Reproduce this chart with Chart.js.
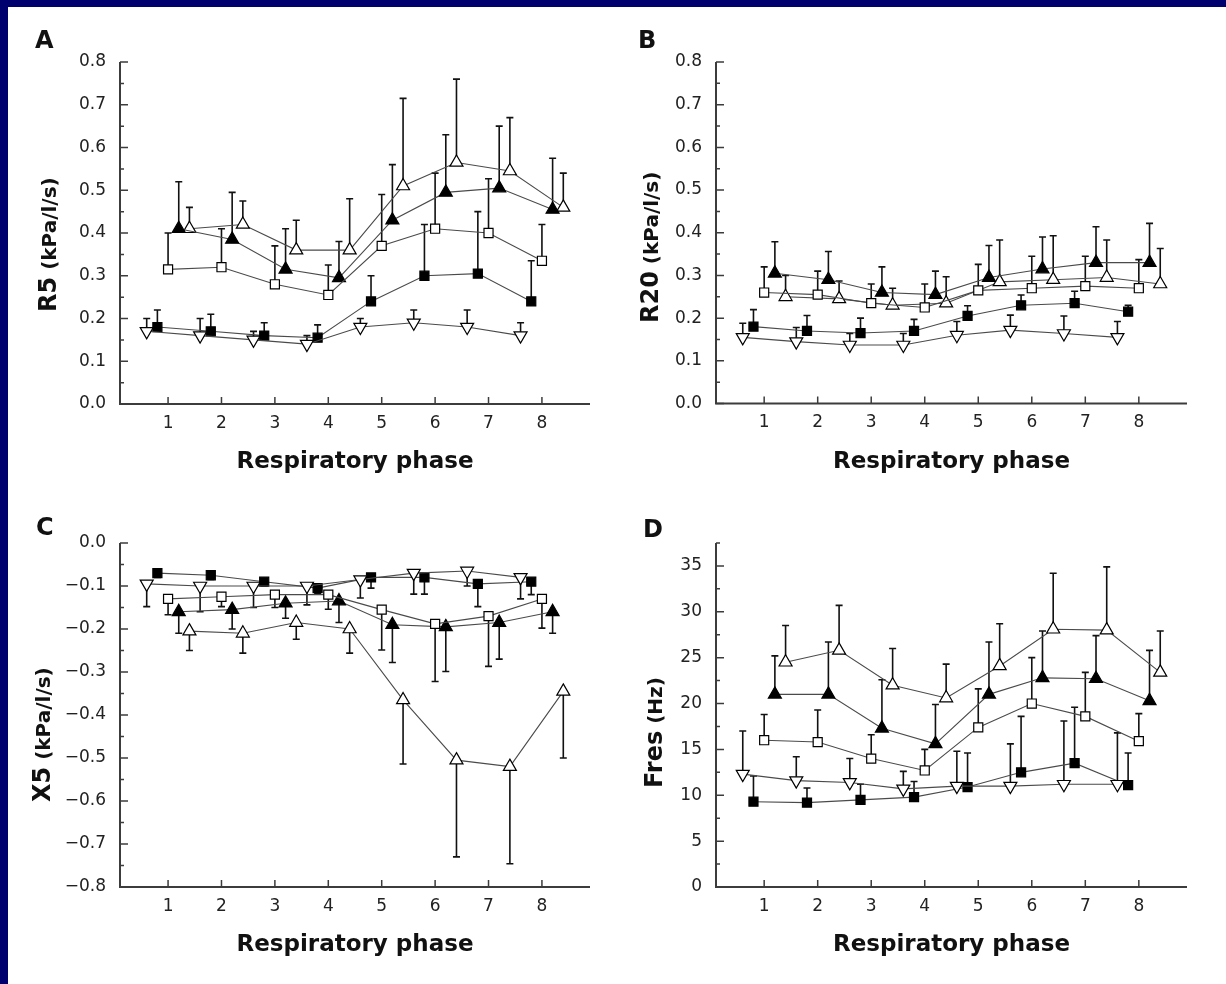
<!DOCTYPE html>
<html>
<head>
<meta charset="utf-8">
<script src="https://cdn.jsdelivr.net/npm/chart.js@4.4.1/dist/chart.umd.min.js"></script>
<style>
  html, body { margin: 0; padding: 0; background: #00006e; overflow: hidden; }
  #sheet { position: absolute; left: 8px; top: 7px; width: 1218px; height: 977px; background: #fff; }
  canvas { position: absolute; }
</style>
</head>
<body>
<div id="sheet"></div>
<canvas id="chartA"></canvas>
<canvas id="chartB"></canvas>
<canvas id="chartC"></canvas>
<canvas id="chartD"></canvas>
<script>
// respiratory phases 1-8, five groups drawn side by side around each phase
const phases = [1, 2, 3, 4, 5, 6, 7, 8];
const groups = ['open down triangle', 'filled square', 'open square', 'filled triangle', 'open triangle'];

// A: R5 (kPa/l/s), mean and SD per group
const r5Mean = [
  [0.17, 0.16, 0.15, 0.14, 0.18, 0.19, 0.18, 0.16],
  [0.18, 0.17, 0.16, 0.155, 0.24, 0.30, 0.305, 0.24],
  [0.315, 0.32, 0.28, 0.255, 0.37, 0.41, 0.40, 0.335],
  [0.41, 0.385, 0.315, 0.295, 0.43, 0.495, 0.505, 0.455],
  [0.41, 0.42, 0.36, 0.36, 0.51, 0.565, 0.545, 0.46]
];
const r5Sd = [
  [0.03, 0.04, 0.02, 0.02, 0.02, 0.03, 0.04, 0.03],
  [0.04, 0.04, 0.03, 0.03, 0.06, 0.12, 0.145, 0.095],
  [0.085, 0.09, 0.09, 0.07, 0.12, 0.13, 0.127, 0.085],
  [0.11, 0.11, 0.095, 0.085, 0.13, 0.135, 0.145, 0.12],
  [0.05, 0.055, 0.07, 0.12, 0.205, 0.195, 0.125, 0.08]
];

// B: R20 (kPa/l/s)
const r20Mean = [
  [0.155, 0.145, 0.137, 0.137, 0.16, 0.172, 0.164, 0.155],
  [0.18, 0.17, 0.165, 0.17, 0.205, 0.23, 0.235, 0.215],
  [0.26, 0.255, 0.235, 0.225, 0.265, 0.27, 0.275, 0.27],
  [0.305, 0.29, 0.26, 0.255, 0.295, 0.315, 0.33, 0.33],
  [0.25, 0.245, 0.23, 0.235, 0.285, 0.29, 0.295, 0.28]
];
const r20Sd = [
  [0.033, 0.033, 0.027, 0.027, 0.032, 0.035, 0.041, 0.037],
  [0.04, 0.036, 0.035, 0.027, 0.024, 0.024, 0.028, 0.015],
  [0.06, 0.055, 0.045, 0.055, 0.061, 0.075, 0.07, 0.067],
  [0.074, 0.066, 0.06, 0.055, 0.075, 0.075, 0.084, 0.092],
  [0.05, 0.042, 0.04, 0.062, 0.098, 0.103, 0.088, 0.083]
];

// C: X5 (kPa/l/s), SD drawn downwards
const x5Mean = [
  [-0.095, -0.10, -0.10, -0.10, -0.085, -0.07, -0.065, -0.08],
  [-0.07, -0.075, -0.09, -0.105, -0.08, -0.08, -0.095, -0.09],
  [-0.13, -0.125, -0.12, -0.12, -0.155, -0.188, -0.17, -0.13],
  [-0.16, -0.155, -0.14, -0.135, -0.19, -0.195, -0.185, -0.16],
  [-0.205, -0.21, -0.185, -0.20, -0.365, -0.505, -0.52, -0.345]
];
const x5Sd = [
  [0.053, 0.06, 0.05, 0.044, 0.043, 0.049, 0.035, 0.05],
  [0.01, 0.01, 0.01, 0.013, 0.025, 0.039, 0.053, 0.03],
  [0.037, 0.023, 0.03, 0.034, 0.094, 0.134, 0.117, 0.068],
  [0.05, 0.045, 0.035, 0.05, 0.088, 0.104, 0.085, 0.05],
  [0.045, 0.046, 0.039, 0.056, 0.149, 0.225, 0.226, 0.155]
];

// D: Fres (Hz)
const fresMean = [
  [12.3, 11.6, 11.4, 10.7, 11.0, 11.0, 11.2, 11.2],
  [9.3, 9.2, 9.5, 9.8, 10.9, 12.5, 13.5, 11.1],
  [16.0, 15.8, 14.0, 12.7, 17.4, 20.0, 18.6, 15.9],
  [21.0, 21.0, 17.3, 15.6, 21.0, 22.8, 22.7, 20.3],
  [24.5, 25.8, 22.0, 20.6, 24.1, 28.1, 28.0, 23.4]
];
const fresSd = [
  [4.7, 2.6, 2.6, 1.9, 3.8, 4.6, 6.9, 5.6],
  [2.8, 1.6, 1.7, 1.7, 3.7, 6.1, 6.1, 3.5],
  [2.8, 3.5, 2.6, 2.3, 4.2, 5.0, 4.8, 3.0],
  [4.2, 5.7, 5.3, 4.3, 5.7, 5.1, 4.7, 5.5],
  [4.0, 4.9, 4.0, 3.7, 4.6, 6.1, 6.9, 4.5]
];

// tick values and labels
const rTicks = [0, 0.1, 0.2, 0.3, 0.4, 0.5, 0.6, 0.7, 0.8];
const rTickLabels = ['0.0', '0.1', '0.2', '0.3', '0.4', '0.5', '0.6', '0.7', '0.8'];
const x5Ticks = [0, -0.1, -0.2, -0.3, -0.4, -0.5, -0.6, -0.7, -0.8];
const x5TickLabels = ['0.0', '\u22120.1', '\u22120.2', '\u22120.3', '\u22120.4', '\u22120.5', '\u22120.6', '\u22120.7', '\u22120.8'];
const fresTicks = [0, 5, 10, 15, 20, 25, 30, 35];
const fresTickLabels = ['0', '5', '10', '15', '20', '25', '30', '35'];

const FONT = '"DejaVu Sans", "Liberation Sans", sans-serif';
const X_AXIS_H = 76;

// marker look per group: offset from the phase, shape, fill
const markers = [
  { off: -0.4, style: 'triangle', rot: 180, fill: '#fff', r: 7.5 },
  { off: -0.2, style: 'rect', rot: 0, fill: '#000', r: 6.4 },
  { off: 0, style: 'rect', rot: 0, fill: '#fff', r: 6.4 },
  { off: 0.2, style: 'triangle', rot: 0, fill: '#000', r: 7.5 },
  { off: 0.4, style: 'triangle', rot: 0, fill: '#fff', r: 7.5 }
];

const errorBars = {
  id: 'errorBars',
  beforeDatasetsDraw(chart, args, opts) {
    const { ctx, scales: { x, y } } = chart;
    ctx.save();
    ctx.strokeStyle = '#111';
    ctx.lineWidth = 1.6;
    chart.data.datasets.forEach(ds => {
      ds.data.forEach((p, i) => {
        const px = x.getPixelForValue(p.x);
        const y0 = y.getPixelForValue(p.y);
        const y1 = y.getPixelForValue(p.y + opts.dir * ds.sd[i]);
        ctx.beginPath();
        ctx.moveTo(px, y0);
        ctx.lineTo(px, y1);
        ctx.moveTo(px - 3.5, y1);
        ctx.lineTo(px + 3.5, y1);
        ctx.stroke();
      });
    });
    ctx.restore();
  }
};

const frame = {
  id: 'frame',
  afterDraw(chart, args, opts) {
    const { ctx, chartArea: a, scales: { x, y } } = chart;
    ctx.save();
    ctx.strokeStyle = '#3c3c3c';
    ctx.lineWidth = 2;
    ctx.beginPath();
    ctx.moveTo(a.left, a.top);
    ctx.lineTo(a.left, a.bottom);
    ctx.lineTo(a.right, a.bottom);
    ctx.stroke();

    ctx.lineWidth = 1.5;
    ctx.beginPath();
    y.ticks.forEach(t => {
      const py = y.getPixelForValue(t.value);
      ctx.moveTo(a.left, py);
      ctx.lineTo(a.left + 8, py);
    });
    opts.minor.forEach(v => {
      const py = y.getPixelForValue(v);
      ctx.moveTo(a.left, py);
      ctx.lineTo(a.left + 4, py);
    });
    x.ticks.forEach(t => {
      const px = x.getPixelForValue(t.value);
      ctx.moveTo(px, a.bottom);
      ctx.lineTo(px, a.bottom - 7);
    });
    ctx.stroke();

    // panel letter
    ctx.fillStyle = '#111';
    ctx.textBaseline = 'alphabetic';
    ctx.textAlign = 'left';
    ctx.font = 'bold 24px ' + FONT;
    ctx.fillText(opts.letter, opts.letterPos[0] - opts.box[0], opts.letterPos[1] - opts.box[1]);

    // y title, big name + smaller unit, rotated
    ctx.translate(opts.titlePos[0] - opts.box[0], opts.titlePos[1] - opts.box[1]);
    ctx.rotate(-Math.PI / 2);
    let cx = 0;
    opts.title.forEach(part => {
      ctx.font = 'bold ' + part.size + 'px ' + FONT;
      ctx.fillText(part.text, cx, 0);
      cx += ctx.measureText(part.text).width;
    });
    ctx.restore();
  }
};

function minorTicks(ticks, top) {
  const out = [];
  for (let i = 0; i < ticks.length - 1; i++) out.push((ticks[i] + ticks[i + 1]) / 2);
  if (top !== undefined) out.push(top);
  return out;
}

function makePanel(id, p) {
  const canvas = document.getElementById(id);
  const [bl, bt, bw, bh] = p.box;
  const [al, at, ar, ab] = p.area;
  canvas.width = bw;
  canvas.height = bh;
  canvas.style.left = bl + 'px';
  canvas.style.top = bt + 'px';

  const datasets = p.mean.map((row, g) => ({
    label: groups[g],
    data: row.map((v, i) => ({ x: phases[i] + markers[g].off, y: v })),
    sd: p.sd[g],
    borderColor: '#4a4a4a',
    borderWidth: 1.1,
    pointStyle: markers[g].style,
    pointRotation: markers[g].rot,
    pointRadius: markers[g].r,
    pointBackgroundColor: markers[g].fill,
    pointBorderColor: '#000',
    pointBorderWidth: 1.2,
    tension: 0,
    clip: false
  }));

  return new Chart(canvas, {
    type: 'line',
    data: { datasets },
    options: {
      responsive: false,
      animation: false,
      events: [],
      layout: {
        autoPadding: false,
        padding: { left: 0, top: at - bt, right: bl + bw - ar, bottom: bt + bh - ab - X_AXIS_H }
      },
      scales: {
        x: {
          type: 'linear',
          min: 0.1,
          max: 8.9,
          afterFit: s => { s.height = X_AXIS_H; },
          afterBuildTicks: s => { s.ticks = phases.map(v => ({ value: v })); },
          grid: { display: false, drawTicks: false },
          border: { display: false },
          ticks: { color: '#222', padding: 9, font: { family: FONT, size: 17 } },
          title: {
            display: true,
            text: 'Respiratory phase',
            color: '#111',
            padding: { top: 0, bottom: 4 },
            font: { family: FONT, size: 23, weight: 'bold' }
          }
        },
        y: {
          type: 'linear',
          min: p.yMin,
          max: p.yMax,
          afterFit: s => { s.width = al - bl; },
          afterBuildTicks: s => { s.ticks = p.ticks.map(v => ({ value: v })); },
          grid: { display: false, drawTicks: false },
          border: { display: false },
          ticks: {
            color: '#222',
            padding: 14,
            font: { family: FONT, size: 17 },
            callback: (v, i) => p.labels[p.ticks.indexOf(v)] ?? p.labels[i]
          }
        }
      },
      plugins: {
        legend: { display: false },
        tooltip: { enabled: false },
        errorBars: { dir: p.dir },
        frame: {
          minor: p.minor,
          box: p.box,
          letter: p.letter,
          letterPos: p.letterPos,
          title: p.title,
          titlePos: p.titlePos
        }
      }
    },
    plugins: [errorBars, frame]
  });
}

makePanel('chartA', {
  box: [8, 7, 605, 480], area: [120, 62, 590, 404],
  mean: r5Mean, sd: r5Sd, dir: 1, yMin: 0, yMax: 0.8,
  ticks: rTicks, labels: rTickLabels, minor: minorTicks(rTicks),
  letter: 'A', letterPos: [35, 48],
  title: [{ text: 'R5', size: 24 }, { text: ' (kPa/l/s)', size: 20 }], titlePos: [56, 312]
});

makePanel('chartB', {
  box: [613, 7, 613, 480], area: [716, 62, 1187, 403.5],
  mean: r20Mean, sd: r20Sd, dir: 1, yMin: 0, yMax: 0.8,
  ticks: rTicks, labels: rTickLabels, minor: minorTicks(rTicks),
  letter: 'B', letterPos: [638, 48],
  title: [{ text: 'R20', size: 24 }, { text: ' (kPa/l/s)', size: 20 }], titlePos: [658, 323]
});

makePanel('chartC', {
  box: [8, 490, 605, 494], area: [120, 543, 590, 887],
  mean: x5Mean, sd: x5Sd, dir: -1, yMin: -0.8, yMax: 0,
  ticks: x5Ticks, labels: x5TickLabels, minor: minorTicks(x5Ticks),
  letter: 'C', letterPos: [36, 535],
  title: [{ text: 'X5', size: 24 }, { text: ' (kPa/l/s)', size: 20 }], titlePos: [50, 802]
});

makePanel('chartD', {
  box: [613, 490, 613, 494], area: [716, 543, 1187, 887],
  mean: fresMean, sd: fresSd, dir: 1, yMin: 0, yMax: 37.5,
  ticks: fresTicks, labels: fresTickLabels, minor: minorTicks(fresTicks, 37.5),
  letter: 'D', letterPos: [643, 537],
  title: [{ text: 'Fres', size: 24 }, { text: ' (Hz)', size: 20 }], titlePos: [662, 788]
});
</script>
</body>
</html>
